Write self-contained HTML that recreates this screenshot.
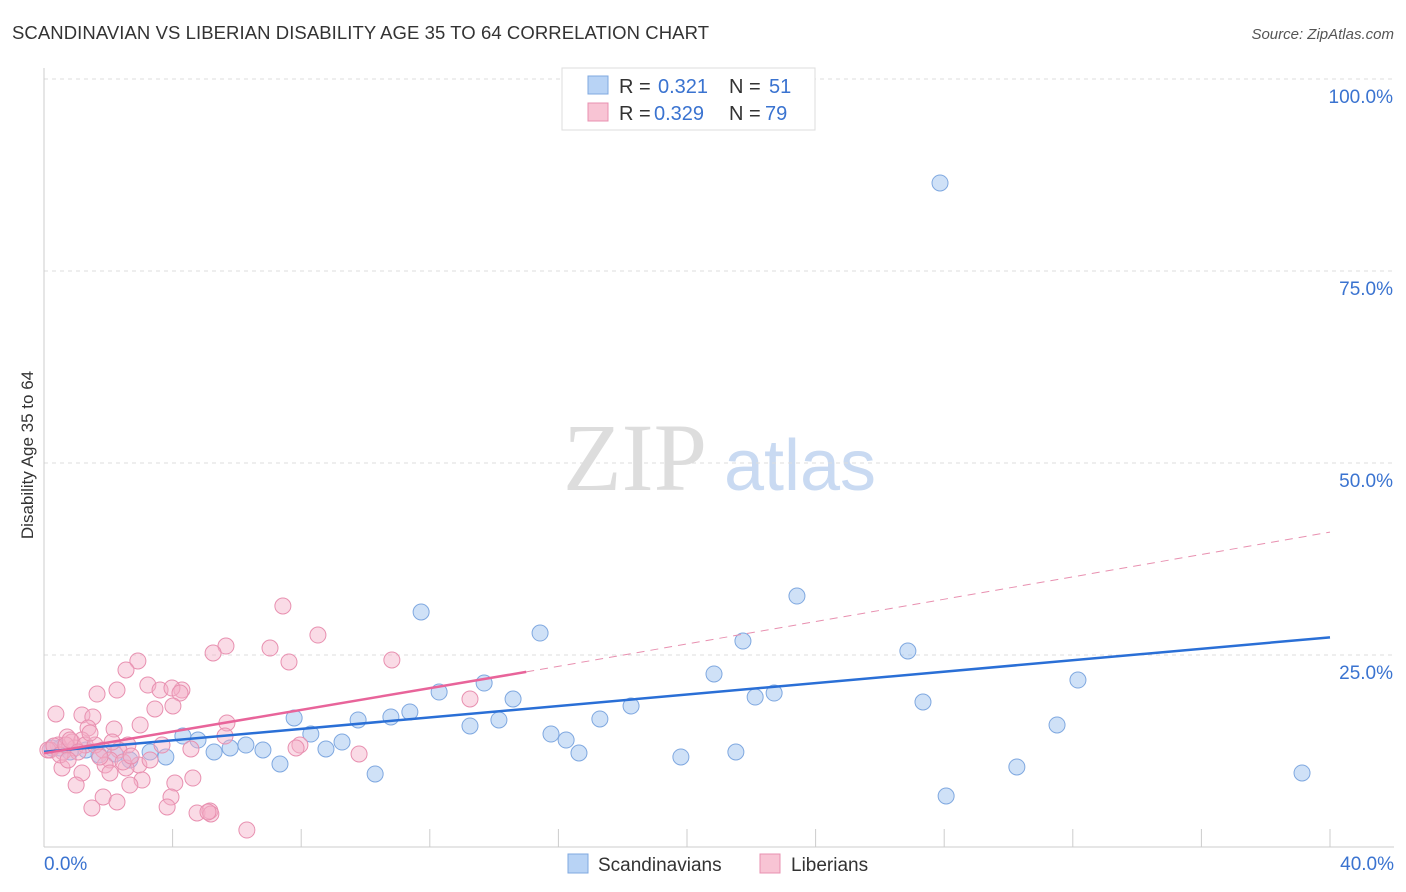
<!DOCTYPE html>
<html><head><meta charset="utf-8"><style>
body{margin:0;background:#fff;font-family:"Liberation Sans",sans-serif;}
svg{display:block}
</style></head><body>
<svg width="1406" height="892" id="chart">
<text x="12" y="39" font-size="18.5" fill="#333" textLength="697">SCANDINAVIAN VS LIBERIAN DISABILITY AGE 35 TO 64 CORRELATION CHART</text>
<text x="1394" y="39" font-size="15" fill="#555" font-style="italic" text-anchor="end">Source: ZipAtlas.com</text>
<text x="33" y="455" font-size="17" fill="#333" text-anchor="middle" transform="rotate(-90 33 455)">Disability Age 35 to 64</text>
<g>
<text x="635" y="490" font-size="96" fill="#ddd" font-family="Liberation Serif,serif" text-anchor="middle">ZIP</text>
<text x="800" y="490" font-size="72" fill="#c9daf2" text-anchor="middle">atlas</text>
</g>
<g id="grid"></g><g id="axes"></g><g id="pts"></g><g id="lines"></g>
<g>
<rect x="562" y="68" width="253" height="62" fill="#fff" stroke="#ddd"/>
<rect x="588" y="76" width="20" height="18" fill="#b8d3f5" stroke="#7fa8e0"/>
<rect x="588" y="103" width="20" height="18" fill="#f8c4d4" stroke="#e890b0"/>
<text x="619" y="93" font-size="20" fill="#333">R =</text>
<text x="658" y="93" font-size="20" fill="#3a73d0">0.321</text>
<text x="729" y="93" font-size="20" fill="#333">N =</text>
<text x="769" y="93" font-size="20" fill="#3a73d0">51</text>
<text x="619" y="120" font-size="20" fill="#333">R =</text>
<text x="654" y="120" font-size="20" fill="#3a73d0">0.329</text>
<text x="729" y="120" font-size="20" fill="#333">N =</text>
<text x="765" y="120" font-size="20" fill="#3a73d0">79</text>
</g>
<g>
<rect x="568" y="854" width="20" height="19" fill="#b8d3f5" stroke="#7fa8e0"/>
<text x="598" y="871" font-size="19" fill="#333">Scandinavians</text>
<rect x="760" y="854" width="20" height="19" fill="#f8c4d4" stroke="#e890b0"/>
<text x="791" y="871" font-size="19" fill="#333">Liberians</text>
</g>
</svg>
<script>
const yTicks=[25,50,75,100];
const yTickLabels=["25.0%","50.0%","75.0%","100.0%"];
const xTicks=[0,4,8,12,16,20,24,28,32,36,40];
const blueX=[27.87,23.42,11.73,15.43,21.74,26.87,20.84,32.16,13.69,12.29,14.59,22.71,22.12,27.34,18.26,11.38,7.78,9.77,10.79,13.25,14.15,17.29,31.51,15.77,16.24,8.30,9.27,4.32,4.79,5.79,6.28,6.81,8.77,5.29,3.30,3.79,2.67,1.71,2.21,1.31,0.50,0.81,0.25,7.34,10.30,19.81,21.52,16.64,30.26,39.13,28.06];
const blueY=[86.46,32.68,30.60,27.86,26.82,25.52,22.53,21.74,21.35,20.18,19.27,20.05,19.53,18.88,18.36,17.58,16.80,16.54,16.93,15.76,16.54,16.67,15.89,14.71,13.93,14.71,13.67,14.45,13.93,12.89,13.28,12.63,12.76,12.37,12.37,11.72,11.33,11.98,12.11,12.63,12.89,12.37,12.89,10.81,9.51,11.72,12.37,12.24,10.42,9.64,6.64];
const pinkX=[7.43,5.66,5.26,7.03,8.52,10.82,7.62,2.92,2.55,3.23,3.61,4.29,3.98,4.23,1.65,2.27,3.45,4.01,13.25,0.37,1.18,1.52,5.69,2.99,2.18,1.37,2.61,1.84,2.33,0.72,0.87,1.18,4.57,3.67,5.63,7.96,7.84,9.80,0.44,0.59,0.19,0.96,2.05,2.95,2.55,1.90,3.05,2.67,0.56,1.18,2.05,1.00,4.07,4.63,3.95,1.84,2.27,1.49,3.83,4.76,5.16,5.19,6.31,5.10,0.12,0.31,0.50,0.68,0.81,1.28,1.59,1.74,2.46,3.30,2.71,1.43,1.06,0.75,2.12];
const pinkY=[31.38,26.17,25.26,25.91,27.60,24.35,24.09,24.22,23.05,21.09,20.44,20.44,20.70,20.05,19.92,20.44,17.97,18.36,19.27,17.32,17.19,16.93,16.15,15.89,15.36,15.49,13.28,12.63,12.63,14.32,13.67,13.93,12.76,13.28,14.45,13.28,12.89,12.11,13.28,12.37,12.63,12.89,11.33,10.68,10.29,10.68,8.72,8.07,10.29,9.64,9.64,8.07,8.33,8.98,6.51,6.51,5.86,5.08,5.21,4.43,4.69,4.30,2.21,4.56,12.63,13.15,11.98,13.28,13.93,13.28,13.28,11.72,11.07,11.33,11.85,14.84,12.37,11.33,13.67];
const blueLine=[[0,12.4],[40,27.3]];
const pinkLine=[[0,12.2],[15,22.8]];
const pinkDash=[[15,22.8],[40,41]];
const X=v=>44+v*(1286/40), Y=v=>847-v*7.68;
const NS="http://www.w3.org/2000/svg";
function mk(t,a,p){const e=document.createElementNS(NS,t);for(const k in a)e.setAttribute(k,a[k]);p.appendChild(e);return e;}
const g=document.getElementById('grid'),ax=document.getElementById('axes'),pts=document.getElementById('pts'),ln=document.getElementById('lines');
yTicks.forEach((t,i)=>{
 const l=mk('line',{x1:44,x2:1394,y1:Y(t),y2:Y(t),stroke:'#ddd','stroke-dasharray':'4,4'},g);
 
 
 const tx=mk('text',{x:1393,y:Y(t)+24,'font-size':19,fill:'#3a73d0','text-anchor':'end'},ax);
 tx.textContent=yTickLabels[i];
 
 
});
const xa=mk('line',{x1:44,x2:1394,y1:847,y2:847,stroke:'#ccc'},ax);


const ya=mk('line',{x1:44,x2:44,y1:68,y2:847,stroke:'#ccc'},ax);


xTicks.forEach(t=>{
 const l=mk('line',{x1:X(t),x2:X(t),y1:829,y2:847,stroke:'#ccc'},ax);
 
 
});
const xl0=mk('text',{x:44,y:870,'font-size':19,fill:'#3a73d0'},ax);xl0.textContent='0.0%';


const xl1=mk('text',{x:1394,y:870,'font-size':19,fill:'#3a73d0','text-anchor':'end'},ax);xl1.textContent='40.0%';


blueX.forEach((v,i)=>{
 const c=mk('circle',{cx:X(v),cy:Y(blueY[i]),r:8,fill:'rgba(160,196,240,0.5)',stroke:'#7fa8e0','stroke-width':1},pts);
 
 
});
pinkX.forEach((v,i)=>{
 const c=mk('circle',{cx:X(v),cy:Y(pinkY[i]),r:8,fill:'rgba(245,175,200,0.45)',stroke:'#e890b0','stroke-width':1},pts);
 
 
});
const bl=mk('line',{x1:X(blueLine[0][0]),y1:Y(blueLine[0][1]),x2:X(blueLine[1][0]),y2:Y(blueLine[1][1]),stroke:'#2a6fd6','stroke-width':2.5},ln);


const pd=mk('line',{x1:X(pinkDash[0][0]),y1:Y(pinkDash[0][1]),x2:X(pinkDash[1][0]),y2:Y(pinkDash[1][1]),stroke:'#e890b0','stroke-width':1,'stroke-dasharray':'8,6'},ln);


const pl=mk('line',{x1:X(pinkLine[0][0]),y1:Y(pinkLine[0][1]),x2:X(pinkLine[1][0]),y2:Y(pinkLine[1][1]),stroke:'#e8649a','stroke-width':2.5},ln);


</script>
</body></html>
